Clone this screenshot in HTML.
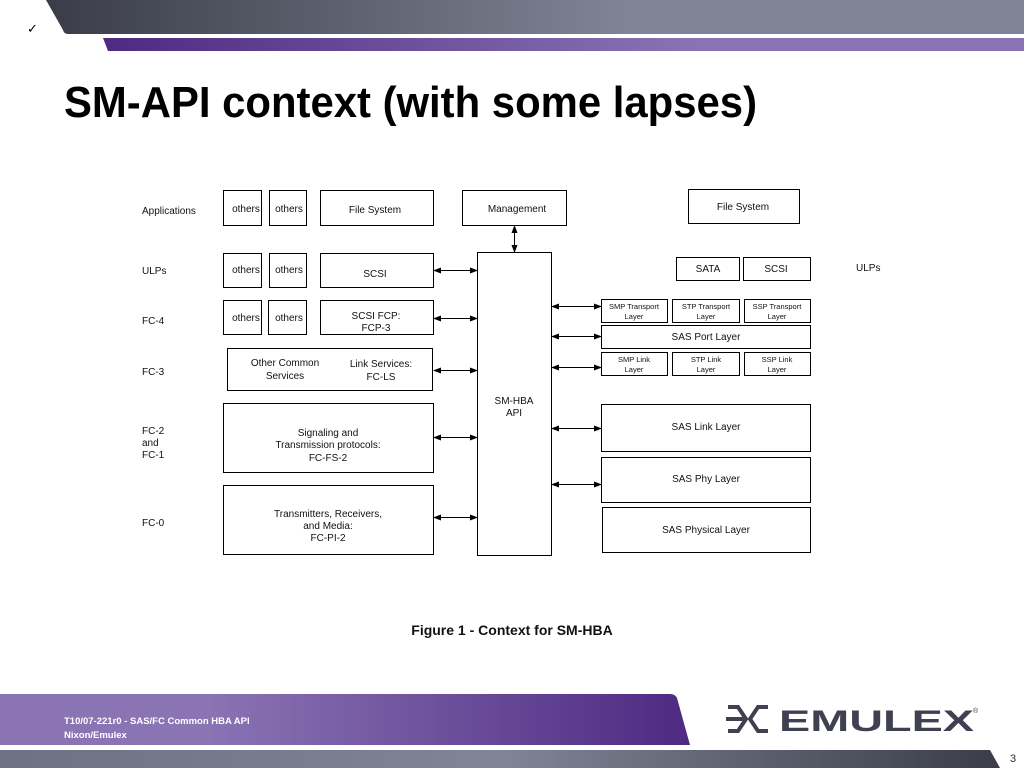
<!DOCTYPE html>
<html><head><meta charset="utf-8"><style>
html,body{margin:0;padding:0;background:#fff;}
body{width:1024px;height:768px;overflow:hidden;position:relative;font-family:"Liberation Sans",sans-serif;}
</style></head><body>
<svg width="1024" height="768" viewBox="0 0 1024 768" xmlns="http://www.w3.org/2000/svg" style="position:absolute;left:0;top:0">
<defs>
<linearGradient id="g1" x1="0" x2="1"><stop offset="0" stop-color="#3a3d48"/><stop offset="0.6" stop-color="#7f8596"/><stop offset="1" stop-color="#7f8596"/></linearGradient>
<linearGradient id="p1" x1="0" x2="1"><stop offset="0" stop-color="#4e2a82"/><stop offset="0.65" stop-color="#8a74b4"/><stop offset="1" stop-color="#8a74b4"/></linearGradient>
<linearGradient id="p2" x1="0" x2="1"><stop offset="0" stop-color="#8a74b4"/><stop offset="0.3" stop-color="#8a74b4"/><stop offset="1" stop-color="#4e2a82"/></linearGradient>
<linearGradient id="g2" x1="0" x2="1"><stop offset="0" stop-color="#6d7282"/><stop offset="0.5" stop-color="#7f8596"/><stop offset="1" stop-color="#3a3d48"/></linearGradient>
<marker id="a" markerWidth="8" markerHeight="6" refX="7" refY="3" orient="auto-start-reverse" markerUnits="userSpaceOnUse"><path d="M0,0 L8,3 L0,6z" fill="#000"/></marker>
</defs>
<path d="M46,0 L1024,0 L1024,34 L68,34 Q64,34 63,30 Z" fill="url(#g1)"/>
<path d="M103,38 L1024,38 L1024,51 L108,51 Z" fill="url(#p1)"/>
<text x="27" y="33" font-size="13" font-family="DejaVu Sans">✓</text>
<text x="64" y="117" font-size="44" font-weight="bold" textLength="693" lengthAdjust="spacingAndGlyphs">SM-API context (with some lapses)</text>

<path d="M0,694 L670,694 Q675,694 677,698 L690,745 L0,745 Z" fill="url(#p2)"/>
<path d="M0,750 L990,750 L1000,768 L0,768 Z" fill="url(#g2)"/>
<text x="64" y="724" font-size="9.5" fill="#fff" font-weight="bold">T10/07-221r0 - SAS/FC Common HBA API</text>
<text x="64" y="738" font-size="9.5" fill="#fff" font-weight="bold">Nixon/Emulex</text>
<g stroke="#3f4150" stroke-width="4" fill="none">
<path d="M728,707 L738,707 L746,719 L738,731 L728,731"/>
<path d="M768,707 L758,707 L750,719 L758,731 L768,731"/>
<path d="M726,719 L744,719"/>
</g>
<text x="779" y="731" font-size="30" font-weight="bold" fill="#3f4150" textLength="195" lengthAdjust="spacingAndGlyphs">EMULEX</text>
<text x="973" y="713" font-size="7" fill="#3f4150">®</text>
<text x="1010" y="762" font-size="11" fill="#333">3</text>

<g fill="none" stroke="#000" stroke-width="1">
<rect x="223.5" y="190.5" width="38" height="35"/><rect x="269.5" y="190.5" width="37" height="35"/><rect x="320.5" y="190.5" width="113" height="35"/>
<rect x="223.5" y="253.5" width="38" height="34"/><rect x="269.5" y="253.5" width="37" height="34"/><rect x="320.5" y="253.5" width="113" height="34"/>
<rect x="223.5" y="300.5" width="38" height="34"/><rect x="268.5" y="300.5" width="38" height="34"/><rect x="320.5" y="300.5" width="113" height="34"/>
<rect x="227.5" y="348.5" width="205" height="42"/>
<rect x="223.5" y="403.5" width="210" height="69"/>
<rect x="223.5" y="485.5" width="210" height="69"/>
<rect x="462.5" y="190.5" width="104" height="35"/>
<rect x="477.5" y="252.5" width="74" height="303"/>
<rect x="688.5" y="189.5" width="111" height="34"/>
<rect x="676.5" y="257.5" width="63" height="23"/><rect x="743.5" y="257.5" width="67" height="23"/>
<rect x="601.5" y="299.5" width="66" height="23"/><rect x="672.5" y="299.5" width="67" height="23"/><rect x="744.5" y="299.5" width="66" height="23"/>
<rect x="601.5" y="325.5" width="209" height="23"/>
<rect x="601.5" y="352.5" width="66" height="23"/><rect x="672.5" y="352.5" width="67" height="23"/><rect x="744.5" y="352.5" width="66" height="23"/>
<rect x="601.5" y="404.5" width="209" height="47"/>
<rect x="601.5" y="457.5" width="209" height="45"/>
<rect x="602.5" y="507.5" width="208" height="45"/>
<g marker-start="url(#a)" marker-end="url(#a)">
<line x1="514.5" y1="226" x2="514.5" y2="252"/>
<line x1="434" y1="270.5" x2="477" y2="270.5"/>
<line x1="434" y1="318.5" x2="477" y2="318.5"/>
<line x1="434" y1="370.5" x2="477" y2="370.5"/>
<line x1="434" y1="437.5" x2="477" y2="437.5"/>
<line x1="434" y1="517.5" x2="477" y2="517.5"/>
<line x1="552" y1="306.5" x2="601" y2="306.5"/>
<line x1="552" y1="336.5" x2="601" y2="336.5"/>
<line x1="552" y1="367.5" x2="601" y2="367.5"/>
<line x1="552" y1="428.5" x2="601" y2="428.5"/>
<line x1="552" y1="484.5" x2="601" y2="484.5"/>
</g>
</g>
<g font-size="10" fill="#111">
<text x="142" y="214">Applications</text><text x="142" y="274">ULPs</text><text x="142" y="324">FC-4</text><text x="142" y="375">FC-3</text>
<text x="142" y="434">FC-2</text><text x="142" y="446">and</text><text x="142" y="458">FC-1</text><text x="142" y="526">FC-0</text>
<text x="856" y="271">ULPs</text>
</g>
<g font-size="10" fill="#111" text-anchor="middle">
<text x="246" y="212">others</text><text x="289" y="212">others</text><text x="375" y="213">File System</text>
<text x="246" y="273">others</text><text x="289" y="273">others</text><text x="375" y="277">SCSI</text>
<text x="246" y="321">others</text><text x="289" y="321">others</text><text x="376" y="319">SCSI FCP:</text><text x="376" y="331">FCP-3</text>
<text x="285" y="366">Other Common</text><text x="285" y="379">Services</text><text x="381" y="367">Link Services:</text><text x="381" y="380">FC-LS</text>
<text x="328" y="436">Signaling and</text><text x="328" y="448">Transmission protocols:</text><text x="328" y="461">FC-FS-2</text>
<text x="328" y="517">Transmitters, Receivers,</text><text x="328" y="529">and Media:</text><text x="328" y="541">FC-PI-2</text>
<text x="517" y="212">Management</text>
<text x="514" y="404">SM-HBA</text><text x="514" y="416">API</text>
<text x="743" y="210">File System</text>
<text x="708" y="272">SATA</text><text x="776" y="272">SCSI</text>
<text x="706" y="340">SAS Port Layer</text>
<text x="706" y="430">SAS Link Layer</text><text x="706" y="482">SAS Phy Layer</text><text x="706" y="533">SAS Physical Layer</text>
</g>
<g font-size="7.5" fill="#111" text-anchor="middle">
<text x="634" y="309">SMP Transport</text><text x="634" y="319">Layer</text>
<text x="706" y="309">STP Transport</text><text x="706" y="319">Layer</text>
<text x="777" y="309">SSP Transport</text><text x="777" y="319">Layer</text>
<text x="634" y="362">SMP Link</text><text x="634" y="372">Layer</text>
<text x="706" y="362">STP Link</text><text x="706" y="372">Layer</text>
<text x="777" y="362">SSP Link</text><text x="777" y="372">Layer</text>
</g>
<text x="512" y="635" font-size="14" font-weight="bold" text-anchor="middle" fill="#111">Figure 1 - Context for SM-HBA</text>
</svg>
</body></html>
